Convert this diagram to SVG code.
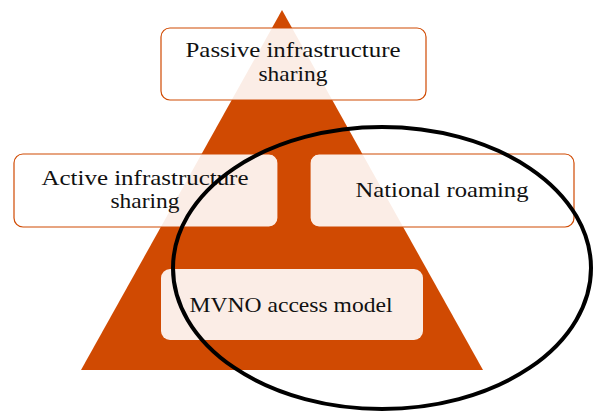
<svg xmlns="http://www.w3.org/2000/svg" width="595" height="412" viewBox="0 0 595 412">
  <style>
    .box { fill: #ffffff; fill-opacity: 0.9; stroke: #D04A02; stroke-width: 1.2; }
    .box.inner { stroke: none; }
    text { font-family: "Liberation Serif", "DejaVu Serif", serif; font-size: 21px; fill: #111111; text-anchor: middle; }
  </style>
  <rect width="595" height="412" fill="#ffffff"/>
  <!-- pyramid backdrop -->
  <polygon id="pyramid" points="282,10 81,370 483,370" fill="#D04A02"/>

  <g id="passive">
    <rect class="box" x="161" y="28" width="265" height="72" rx="9"/>
    <text x="293" y="57" textLength="215" lengthAdjust="spacingAndGlyphs">Passive infrastructure</text>
    <text x="293" y="81" textLength="69" lengthAdjust="spacingAndGlyphs">sharing</text>
  </g>
  <g id="active">
    <rect class="box" x="14" y="154" width="264" height="73" rx="9"/>
    <text x="145" y="185" textLength="207" lengthAdjust="spacingAndGlyphs">Active infrastructure</text>
    <text x="145" y="208" textLength="69" lengthAdjust="spacingAndGlyphs">sharing</text>
  </g>
  <g id="roaming">
    <rect class="box" x="310" y="154" width="264" height="73" rx="9"/>
    <text x="442" y="197" textLength="173" lengthAdjust="spacingAndGlyphs">National roaming</text>
  </g>
  <g id="mvno">
    <rect class="box inner" x="161" y="269" width="262" height="71" rx="9"/>
    <text x="291" y="312" textLength="203" lengthAdjust="spacingAndGlyphs">MVNO access model</text>
  </g>

  <g id="connectors">
    <ellipse cx="382" cy="268" rx="209" ry="141" fill="none" stroke="#000000" stroke-width="4"/>
  </g>
</svg>
